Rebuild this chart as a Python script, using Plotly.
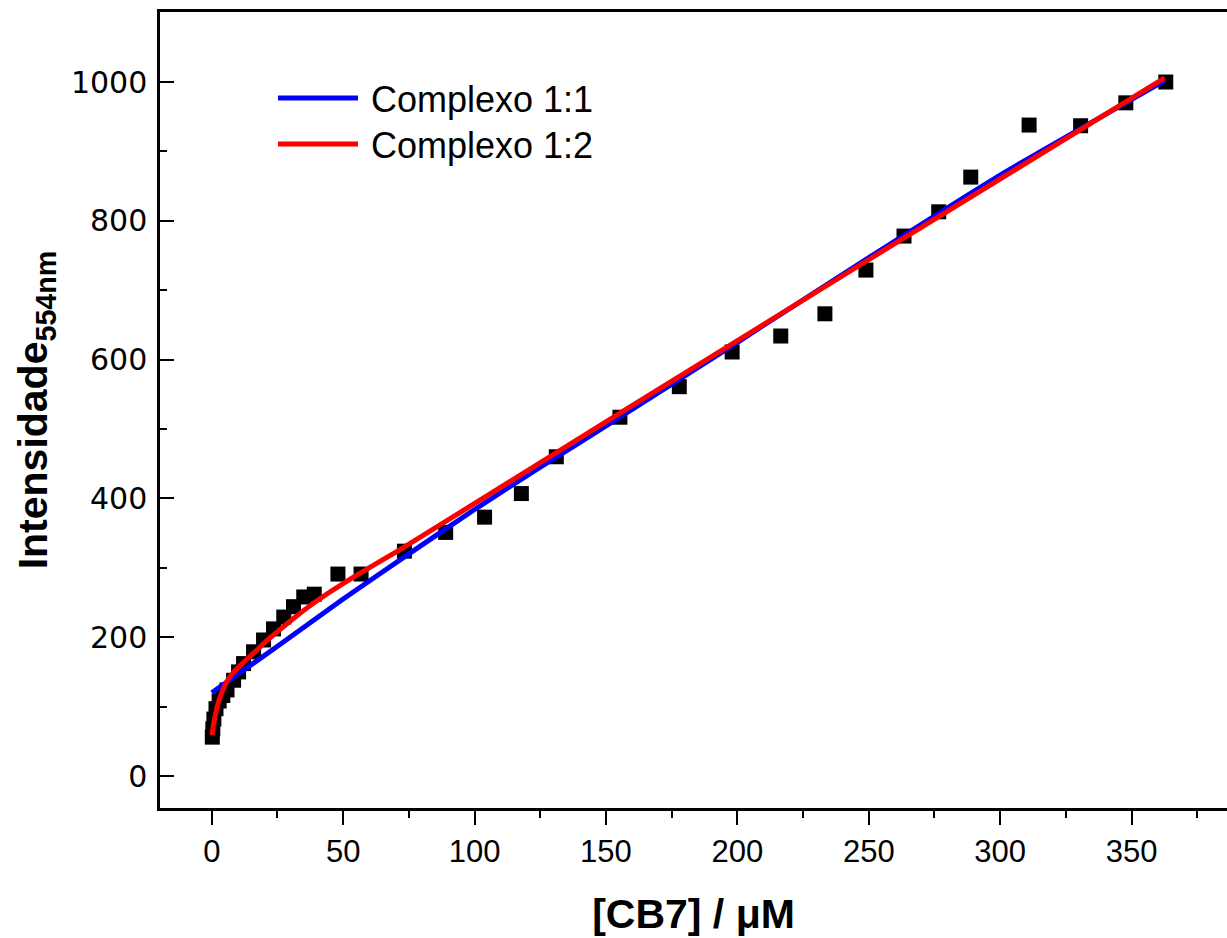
import plotly.graph_objects as go

# Titration data: fluorescence intensity at 554 nm vs [CB7]
cb7_conc = [0.2, 0.4, 0.8, 1.6, 2.8, 4.2, 5.8, 8.3, 10.2, 12.1, 15.9, 19.7, 23.5,
            27.4, 31.1, 35.0, 39.0, 48.0, 56.8, 73.3, 89.0, 103.8, 117.8, 131.1,
            155.3, 177.9, 198.0, 216.5, 233.3, 248.9, 263.4, 276.6, 288.8, 311.0,
            330.6, 347.8, 363.0]
intensity = [56, 68, 82, 97, 108, 116, 124, 138, 150, 162, 179, 196, 212,
             229, 244, 258, 262, 291, 291, 324, 351, 373, 407, 460,
             517, 561, 611, 634, 666, 729, 778, 813, 863, 938,
             937, 970, 1000]

# Fitted curve, 1:1 complex model
fit11_x = [0, 25, 49.6, 75, 100, 125, 155.3, 200, 250, 300, 362.6]
fit11_y = [120, 187, 254, 320, 384, 445, 517, 625, 747, 866, 1002]

# Fitted curve, 1:2 complex model
fit12_x = [0.1, 0.6, 1.2, 2.0, 3.1, 4.5, 6.2, 8.2, 10.5, 13.5, 16.8, 19.5,
           25.0, 32.4, 41.0, 55.0, 72.9, 155.3, 254.3, 362.6]
fit12_y = [59, 73, 85, 99, 113, 126, 139, 149, 158, 169, 180, 190,
           208, 231, 255, 289, 329, 523, 754, 1006]

legend_names = ["Complexo 1:1", "Complexo 1:2"]
legend_colors = ["#0000FF", "#FF0000"]

FONT = "Liberation Sans, Arial, sans-serif"
WIDE_FONT = "DejaVu Sans, Verdana, sans-serif"

fig = go.Figure()
fig.add_trace(go.Scatter(
    x=cb7_conc, y=intensity, mode="markers",
    marker=dict(symbol="square", size=15, color="black", line=dict(width=0)),
    showlegend=False,
))
fig.add_trace(go.Scatter(
    x=fit11_x, y=fit11_y, mode="lines", name=legend_names[0],
    line=dict(color=legend_colors[0], width=5, shape="spline", smoothing=0.4),
    showlegend=False,
))
fig.add_trace(go.Scatter(
    x=fit12_x, y=fit12_y, mode="lines", name=legend_names[1],
    line=dict(color=legend_colors[1], width=5, shape="spline", smoothing=0.6),
    showlegend=False,
))

# Legend drawn as line samples plus text in pixel-aligned paper coordinates
W, H = 1227, 938
ml, mr, mt, mb = 160, 0, 12, 130
pw, ph = W - ml - mr, H - mt - mb


def px(x):
    return (x - ml) / pw


def py(y):
    return 1 - (y - mt) / ph


for i, (name, col) in enumerate(zip(legend_names, legend_colors)):
    yy = 98 + 46 * i
    fig.add_shape(type="line", xref="paper", yref="paper",
                  x0=px(278), x1=px(358), y0=py(yy), y1=py(yy),
                  line=dict(color=col, width=5))
    fig.add_annotation(xref="paper", yref="paper", x=px(369), y=py(yy + 1),
                       text=name, showarrow=False, xanchor="left",
                       yanchor="middle",
                       font=dict(family=FONT, size=36, color="black"))

fig.update_layout(
    width=W, height=H,
    margin=dict(l=ml, r=mr, t=mt, b=mb),
    plot_bgcolor="white", paper_bgcolor="white",
    font=dict(family=FONT, color="black"),
)

fig.update_xaxes(
    range=[-19.7, 386.3], showgrid=False, zeroline=False,
    showline=True, linecolor="black", linewidth=2.5, mirror=True,
    ticks="outside", ticklen=14, tickwidth=2, tickcolor="black",
    tick0=0, dtick=50,
    minor=dict(ticks="outside", ticklen=7, tickwidth=2, tickcolor="black",
               dtick=25, tick0=0, showgrid=False),
    tickfont=dict(family=FONT, size=31),
    title=dict(text="<b>[CB7] / μM</b>", font=dict(family=FONT, size=41),
               standoff=32),
)
fig.update_yaxes(
    range=[-46.1, 1100.9], showgrid=False, zeroline=False,
    showline=True, linecolor="black", linewidth=2.5,
    ticks="inside", ticklen=14, tickwidth=2, tickcolor="black",
    tick0=0, dtick=200,
    minor=dict(ticks="inside", ticklen=7, tickwidth=2, tickcolor="black",
               dtick=100, tick0=0, showgrid=False),
    tickfont=dict(family=WIDE_FONT, size=30),
    ticklabelstandoff=4,
    title=dict(text="<b>Intensidade<sub>554nm</sub></b>",
               font=dict(family=FONT, size=41), standoff=11),
)

fig.write_html("out.html")
